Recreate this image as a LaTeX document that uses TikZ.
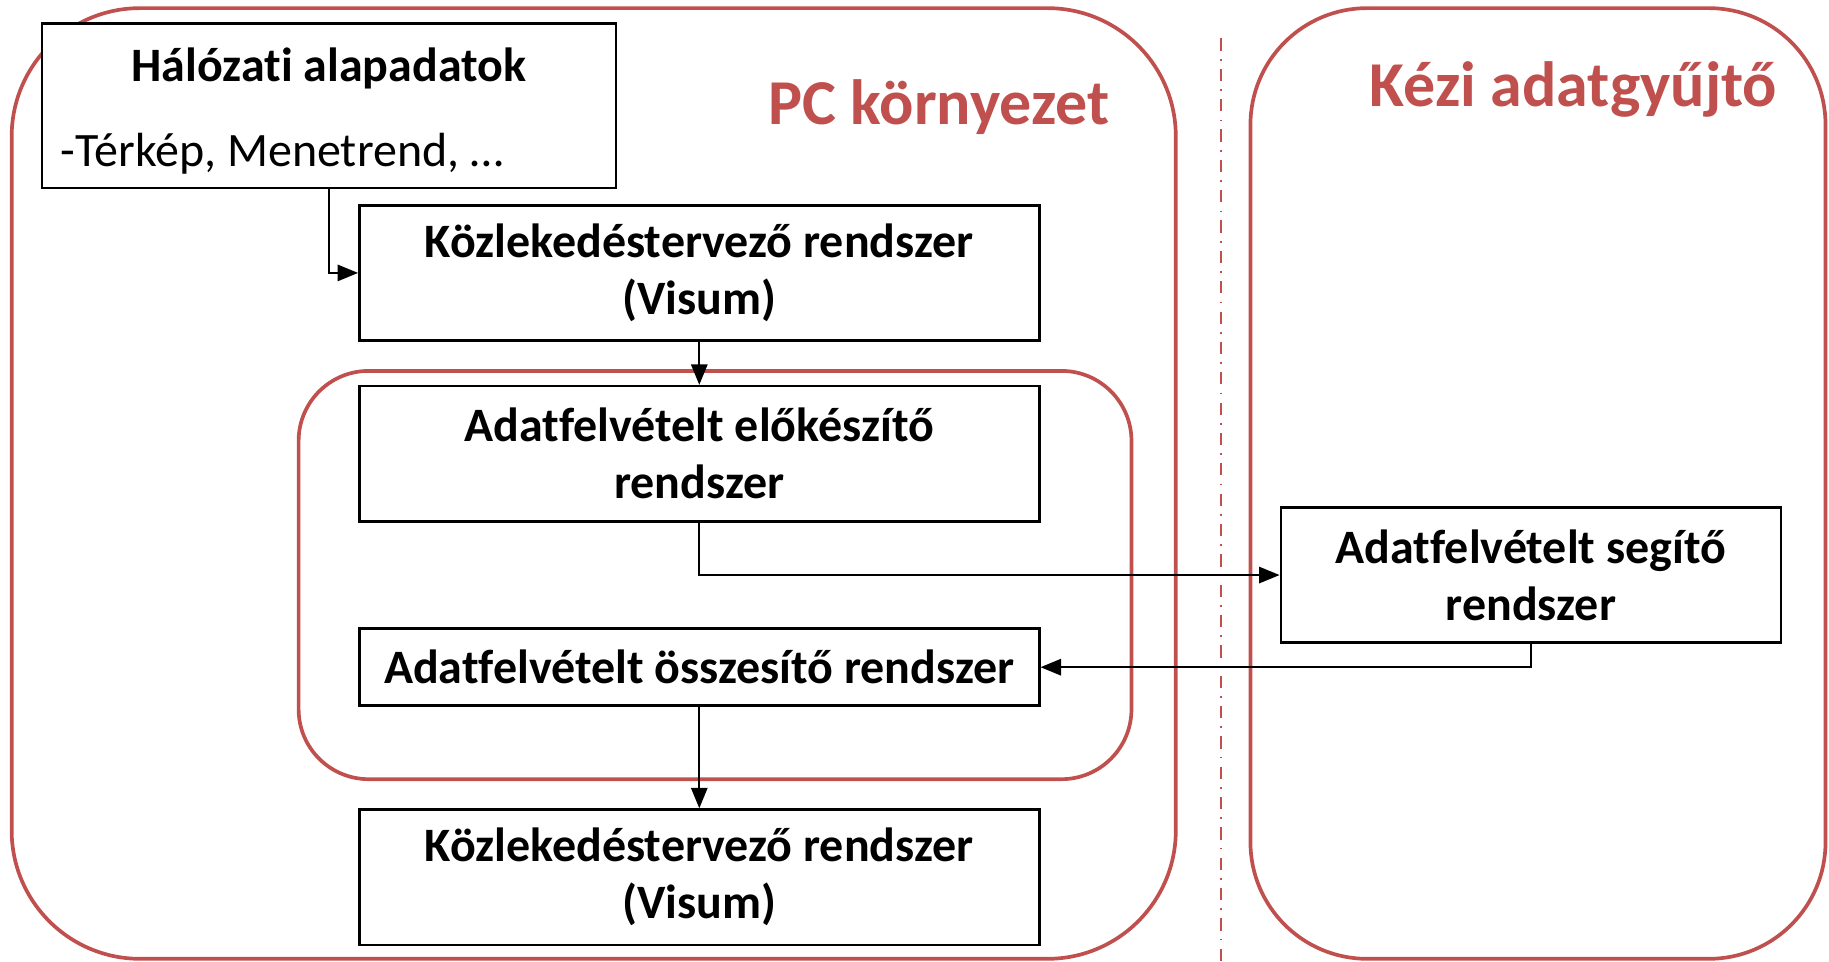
\documentclass[tikz,border=0pt]{standalone}
\usepackage{fontspec}
\setmainfont{Carlito}[Ligatures=NoCommon]
\usepackage{tikz}
\usepackage{xcolor}
\usetikzlibrary{positioning,arrows.meta}
\definecolor{keretpiros}{HTML}{C0504D}

\begin{document}
\begin{tikzpicture}[
    doboz/.style={draw, fill=white, line width=0.6pt, minimum width=5.83cm, minimum height=1.16cm,
        align=center, inner sep=0pt, font=\fontsize{11.7}{13.9}\selectfont\bfseries},
    keret/.style={draw=keretpiros, line width=0.9pt},
    cim/.style={text=keretpiros, font=\fontsize{15.6}{19}\selectfont\bfseries},
    nyil/.style={-{Triangle[length=5pt, width=4pt]}, line width=0.45pt}]
    \useasboundingbox (0, 0) rectangle (15.68, -8.24);

    \draw[keret, rounded corners=1.1cm] (0.10, -0.07) rectangle (10.08, -8.22);
    \draw[keret, rounded corners=1.0cm] (10.72, -0.07) rectangle (15.65, -8.22);
    \draw[keretpiros, line width=0.4pt, dash dot] (10.47, -0.33) -- (10.47, -8.24);
    \draw[keret, rounded corners=0.6cm] (2.56, -3.18) rectangle (9.70, -6.68);

    \node[cim] (pc) at (8.05, -0.92) {PC környezet};
    \node[cim] (kezi) at (13.49, -0.77) {Kézi adatgyűjtő};

    \node[doboz, minimum width=4.92cm, minimum height=1.41cm, text width=4.60cm, align=left,
        font=\fontsize{11.7}{20.7}\selectfont] (halo) at (2.82, -0.905)
        {\spaceskip=0pt\xspaceskip=0pt\centering\rule{0pt}{10.8pt}\textbf{Hálózati alapadatok}\par\raggedright -Térkép, Menetrend, …\par};
    \node[doboz] (kozl1) at (5.995, -2.34) {Közlekedéstervező rendszer\\(Visum)};
    \node[doboz] (elok) at (5.995, -3.89) {Adatfelvételt előkészítő\\rendszer};
    \node[doboz, minimum height=0.66cm] (ossz) at (5.995, -5.72) {Adatfelvételt összesítő rendszer};
    \node[doboz] (kozl2) at (5.995, -7.52) {Közlekedéstervező rendszer\\(Visum)};
    \node[doboz, minimum width=4.29cm] (segito) at (13.125, -4.93) {Adatfelvételt segítő\\rendszer};

    \draw[nyil] (halo.south) |- (kozl1.west);
    \draw[nyil] (kozl1) -- (elok);
    \draw[nyil] (elok.south) |- (segito.west);
    \draw[nyil] (segito.south) |- (ossz.east);
    \draw[nyil] (ossz) -- (kozl2);
\end{tikzpicture}
\end{document}
